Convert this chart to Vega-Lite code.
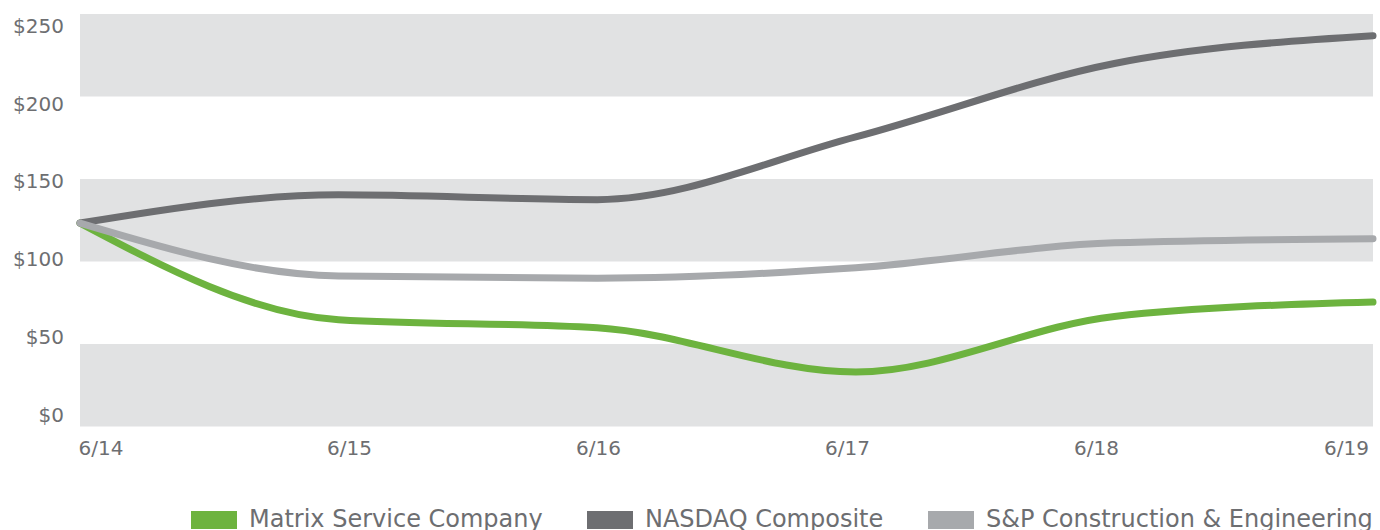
{
  "$schema": "https://vega.github.io/schema/vega-lite/v6.json",
  "width": 1293,
  "height": 412.5,
  "autosize": {"type": "none"},
  "padding": {"left": 80, "top": 14, "right": 7, "bottom": 103.5},
  "background": "white",
  "config": {
    "view": {"stroke": null},
    "font": "DejaVu Sans"
  },
  "datasets": {
    "bands": [
      {"lo": 0, "hi": 50},
      {"lo": 100, "hi": 150},
      {"lo": 200, "hi": 250}
    ],
    "series": [
      {"period": "6/14", "series": "Matrix Service Company", "value": 123.3},
      {"period": "6/15", "series": "Matrix Service Company", "value": 64.7},
      {"period": "6/16", "series": "Matrix Service Company", "value": 59.8},
      {"period": "6/17", "series": "Matrix Service Company", "value": 33.0},
      {"period": "6/18", "series": "Matrix Service Company", "value": 66.7},
      {"period": "6/19", "series": "Matrix Service Company", "value": 75.4},
      {"period": "6/14", "series": "NASDAQ Composite", "value": 123.3},
      {"period": "6/15", "series": "NASDAQ Composite", "value": 140.4},
      {"period": "6/16", "series": "NASDAQ Composite", "value": 137.5},
      {"period": "6/17", "series": "NASDAQ Composite", "value": 175.5},
      {"period": "6/18", "series": "NASDAQ Composite", "value": 220.0},
      {"period": "6/19", "series": "NASDAQ Composite", "value": 236.8},
      {"period": "6/14", "series": "S&P Construction & Engineering", "value": 123.3},
      {"period": "6/15", "series": "S&P Construction & Engineering", "value": 91.2},
      {"period": "6/16", "series": "S&P Construction & Engineering", "value": 89.9},
      {"period": "6/17", "series": "S&P Construction & Engineering", "value": 96.2},
      {"period": "6/18", "series": "S&P Construction & Engineering", "value": 111.3},
      {"period": "6/19", "series": "S&P Construction & Engineering", "value": 113.8}
    ]
  },
  "layer": [
    {
      "data": {"name": "bands"},
      "mark": {"type": "rect", "color": "#e1e2e3"},
      "encoding": {
        "y": {
          "field": "lo",
          "type": "quantitative",
          "scale": {"domain": [0, 250], "nice": false, "zero": true},
          "axis": {
            "title": null,
            "values": [0, 50, 100, 150, 200, 250],
            "labelExpr": "'$' + datum.value",
            "ticks": false,
            "domain": false,
            "grid": false,
            "labelPadding": 16.5,
            "labelFontSize": 20,
            "labelColor": "#6d6e71",
            "labelBound": false,
            "labelOverlap": false,
            "labelFlush": false,
            "labelOffset": {
              "condition": [
                {"test": "datum.value === 250", "value": 12.5},
                {"test": "datum.value === 200", "value": 8.3},
                {"test": "datum.value === 150", "value": 2.8},
                {"test": "datum.value === 100", "value": -2.2},
                {"test": "datum.value === 50", "value": -6.2},
                {"test": "datum.value === 0", "value": -11.2}
              ],
              "value": 0
            }
          }
        },
        "y2": {"field": "hi"}
      }
    },
    {
      "data": {"name": "series"},
      "mark": {"type": "line", "interpolate": "monotone", "strokeWidth": 7, "strokeCap": "round", "strokeJoin": "round"},
      "encoding": {
        "x": {
          "field": "period",
          "type": "ordinal",
          "sort": null,
          "scale": {"type": "point", "padding": 0},
          "axis": {
            "title": null,
            "ticks": false,
            "domain": false,
            "grid": false,
            "labelAngle": 0,
            "labelPadding": 12,
            "labelFontSize": 20,
            "labelColor": "#6d6e71",
            "labelFlush": false,
            "labelOverlap": false,
            "labelBound": false,
            "labelOffset": {
              "condition": [
                {"test": "datum.value === '6/14'", "value": 20.5},
                {"test": "datum.value === '6/15'", "value": 10.4},
                {"test": "datum.value === '6/16'", "value": 0.8},
                {"test": "datum.value === '6/17'", "value": -8.8},
                {"test": "datum.value === '6/18'", "value": -18.4},
                {"test": "datum.value === '6/19'", "value": -27}
              ],
              "value": 0
            }
          }
        },
        "y": {
          "field": "value",
          "type": "quantitative",
          "axis": {
            "title": null,
            "values": [0, 50, 100, 150, 200, 250],
            "labelExpr": "'$' + datum.value",
            "ticks": false,
            "domain": false,
            "grid": false,
            "labelPadding": 16.5,
            "labelFontSize": 20,
            "labelColor": "#6d6e71",
            "labelBound": false,
            "labelOverlap": false,
            "labelFlush": false,
            "labelOffset": {
              "condition": [
                {"test": "datum.value === 250", "value": 12.5},
                {"test": "datum.value === 200", "value": 8.3},
                {"test": "datum.value === 150", "value": 2.8},
                {"test": "datum.value === 100", "value": -2.2},
                {"test": "datum.value === 50", "value": -6.2},
                {"test": "datum.value === 0", "value": -11.2}
              ],
              "value": 0
            }
          }
        },
        "color": {
          "field": "series",
          "type": "nominal",
          "scale": {
            "domain": ["Matrix Service Company", "NASDAQ Composite", "S&P Construction & Engineering"],
            "range": ["#6db33f", "#6d6e71", "#a7a9ac"]
          },
          "legend": {
            "title": null,
            "orient": "none",
            "direction": "horizontal",
            "legendX": 102,
            "legendY": 474,
            "padding": 0,
            "symbolType": "stroke",
            "symbolSize": 2116,
            "symbolStrokeWidth": 18,
            "labelFontSize": 24,
            "labelColor": "#6d6e71",
            "labelOffset": 3,
            "columnPadding": 8,
            "labelLimit": 0
          }
        }
      }
    }
  ]
}
